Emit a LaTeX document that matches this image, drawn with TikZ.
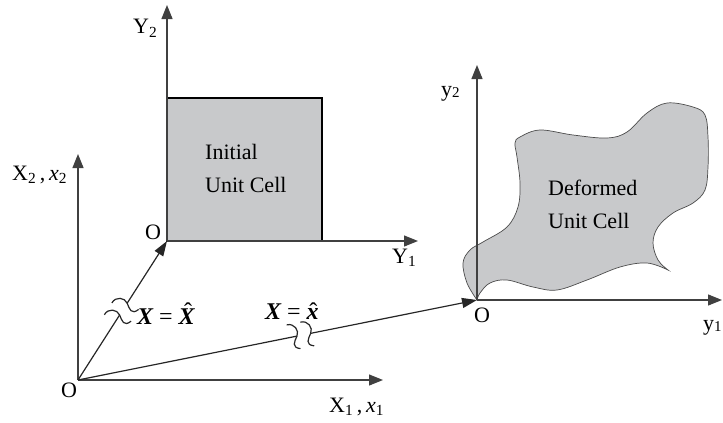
\documentclass[tikz,border=0pt]{standalone}
\usepackage{fontspec}
\setmainfont{Liberation Serif}
\usetikzlibrary{arrows.meta,calc}
\definecolor{cellgray}{RGB}{200,201,203}
\newsavebox\hatbox
\newcommand\hatmark[3]{\sbox\hatbox{#3}\rlap{\hbox to \wd\hatbox{\hss\kern#2\raisebox{#1}{\normalfont\char"02C6}\hss}}\usebox\hatbox}
\begin{document}
\begin{tikzpicture}[x=1pt,y=-1pt,
  ax/.style={draw=black!75, line width=1.2pt, -{Triangle[length=14pt,width=11pt]}},
  vec/.style={draw=black!85, line width=1.2pt},
  vtip/.style={-{Triangle[length=15pt,width=10pt]}},
  lbl/.style={inner sep=0pt, font=\fontsize{22}{33}\selectfont},
  eqlbl/.style={inner sep=0pt, font=\fontsize{24}{28}\selectfont},
  brk/.style={draw=black!85, line width=1.2pt},
  cell/.style={fill=cellgray, draw=black!70, line width=0.7pt}]
\useasboundingbox (0,0) rectangle (723,423);
% key points
\coordinate (O) at (78,380);
\coordinate (Oi) at (167,241);
\coordinate (Od) at (477,300);
\coordinate (X1) at (383,380);
\coordinate (X2) at (78,154);
\coordinate (Y1) at (418,241);
\coordinate (Y2) at (167,5);
\coordinate (y1) at (722,300);
\coordinate (y2) at (477,65);
% deformed unit cell
\filldraw[cell] plot[smooth, tension=0.6] coordinates {(477,300) (467,283) (463,263) (470,250) (483,242) (507,227) (518,207) (520,183) (517,157) (515,143) (520,137) (540,130) (573,135) (607,138) (627,132) (647,113) (667,103) (693,107) (705,115) (708,137) (708,167) (705,190) (693,203) (673,213) (658,227) (653,243) (658,260) (668,270)}
  -- plot[smooth, tension=0.6] coordinates {(668,270) (647,263) (620,267) (587,280) (557,290) (533,287) (507,280) (490,283) (480,293) (477,300)} -- cycle;
% initial unit cell
\node[fill=cellgray, draw=black, line width=1.4pt, minimum width=155, minimum height=143, anchor=south west, inner sep=0pt, outer sep=0pt] (cellbox) at (Oi) {};
% axes
\draw[ax] (O) -- (X1);
\draw[ax] (O) -- (X2);
\draw[ax] (Oi) -- (Y1);
\draw[ax] (Oi) -- (Y2);
\draw[ax] (Od) -- (y1);
\draw[ax] (Od) -- (y2);
% vector to initial cell with break
\coordinate (B1) at ($(O)!0.51!(Oi)$);
\draw[vec] (O) -- ($(B1)!7pt!(O)$);
\draw[vec, vtip] ($(B1)!7pt!(Oi)$) -- (Oi);
\begin{scope}[shift={(B1)}, rotate=57.4, x=1pt, y=1pt]
  \foreach \u in {-7,7}
    \draw[brk, xshift=\u pt] (-8,13) .. controls (0,13.5) and (3.5,5) .. (0,0) .. controls (-3.5,-5) and (-8,-10) .. (1,-13);
\end{scope}
% vector to deformed cell with break
\coordinate (B2) at ($(O)!0.566!(Od)$);
\draw[vec] (O) -- ($(B2)!7pt!(O)$);
\draw[vec, vtip] ($(B2)!7pt!(Od)$) -- (Od);
\begin{scope}[shift={(B2)}, rotate=11.3, x=1pt, y=1pt]
  \foreach \u in {-7,7}
    \draw[brk, xshift=\u pt] (-8,13) .. controls (0,13.5) and (3.5,5) .. (0,0) .. controls (-3.5,-5) and (-8,-10) .. (1,-13);
\end{scope}
% labels
\node[lbl, anchor=base west] (lX2) at (12,180) {X\textsubscript{2}\,,\,\textit{x}\textsubscript{2}};
\node[lbl, anchor=base west] (lX1) at (329,412) {X\textsubscript{1}\,,\,\textit{x}\textsubscript{1}};
\node[lbl] (lO) at (69,390) {O};
\node[lbl] (lOi) at (153,232) {O};
\node[lbl] (lOd) at (482,315) {O};
\node[lbl, anchor=base west] (lY2) at (133,34) {Y\textsubscript{2}};
\node[lbl, anchor=base west] (lY1) at (392,263) {Y\textsubscript{1}};
\node[lbl, anchor=base west] (ly2) at (441,96) {y\raisebox{-0.05em}{\fontsize{15}{15}\selectfont 2}};
\node[lbl, anchor=base west] (ly1) at (703,330) {y\raisebox{-0.05em}{\fontsize{15}{15}\selectfont 1}};
\node[lbl, align=left, anchor=north west] (tI) at (205,144) {Initial\\Unit Cell};
\node[lbl, align=left, anchor=north west] (tD) at (548,180) {Deformed\\Unit Cell};
\node[eqlbl, anchor=base west] (e1) at (137,324) {{\bfseries\itshape X} = \hatmark{0.2em}{0.12em}{\bfseries\itshape X}};
\node[eqlbl, anchor=base west] (e2) at (265,319) {{\bfseries\itshape X} = \hatmark{0pt}{0.06em}{\bfseries\itshape x}};
\end{tikzpicture}
\end{document}
